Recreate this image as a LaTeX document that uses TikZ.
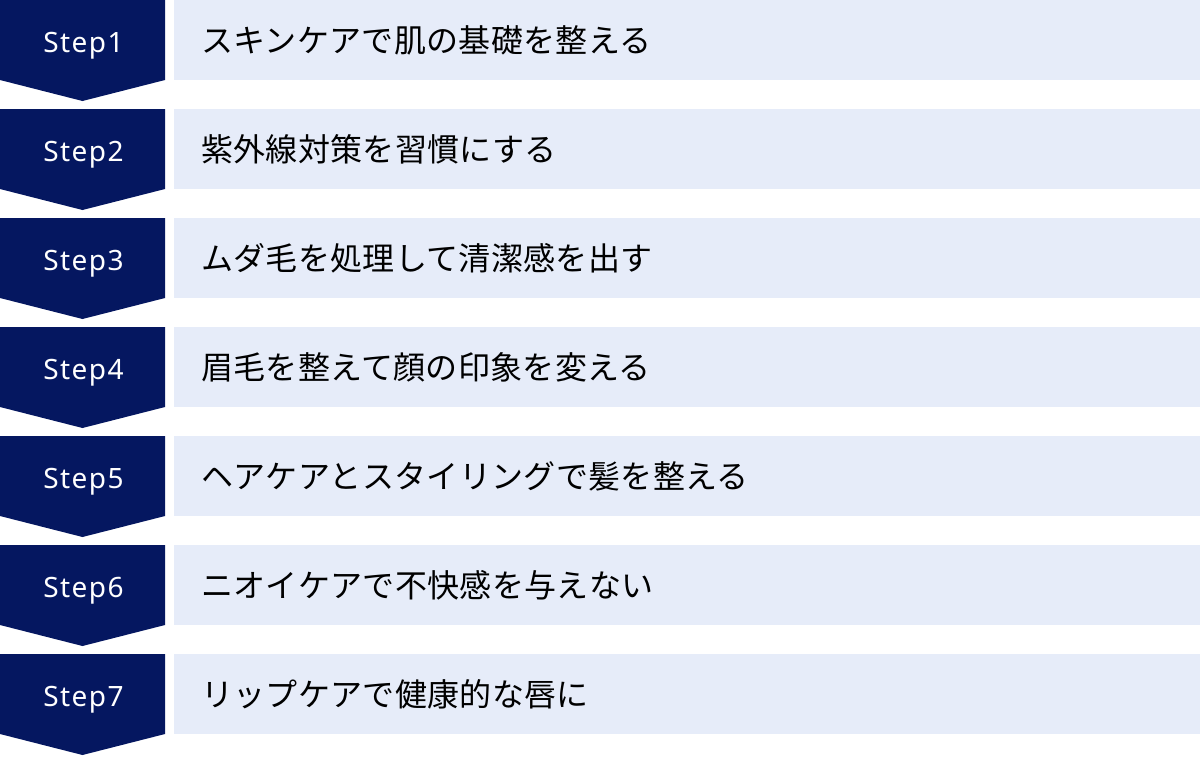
\documentclass[tikz,border=0pt]{standalone}
\usepackage{fontspec}
\usepackage{tikz}
\usepackage{xcolor}
\setmainfont{Noto Sans}
\newfontfamily\stepfont{Noto Sans}[LetterSpace=5]
\newfontfamily\jpfont{Noto Sans CJK JP}[LetterSpace=1]
\definecolor{stepnavy}{RGB}{5,23,96}
\definecolor{rowblue}{RGB}{230,236,249}
\tikzset{
    steplabel/.style={anchor=base,text=white,inner sep=0pt,font=\stepfont\fontsize{28}{34}\selectfont},
    itemtext/.style={anchor=base west,text=black,inner sep=0pt,font=\jpfont\fontsize{32}{38}\selectfont}
}
\newcommand{\stepbadge}[1]{
    \fill[stepnavy] (0,#1) -- (165,#1) -- (165,#1+80) -- (82.5,#1+101) -- (0,#1+80) -- cycle;
    \fill[rowblue] (174,#1) rectangle (1200,#1+80);
}

\begin{document}
\begin{tikzpicture}[x=1pt,y=-1pt]
\useasboundingbox (0,0) rectangle (1200,756);
\foreach \i/\t in {
    1/スキンケアで肌の基礎を整える,
    2/紫外線対策を習慣にする,
    3/ムダ毛を処理して清潔感を出す,
    4/眉毛を整えて顔の印象を変える,
    5/ヘアケアとスタイリングで髪を整える,
    6/ニオイケアで不快感を与えない,
    7/リップケアで健康的な唇に
}{
    \pgfmathsetmacro{\rowtop}{(\i-1)*109}
    \stepbadge{\rowtop}
    \node[steplabel] (step\i) at (83.5,\rowtop+52) {Step\i};
    \node[itemtext] (item\i) at (201,\rowtop+52) {\t};
}
\end{tikzpicture}
\end{document}
